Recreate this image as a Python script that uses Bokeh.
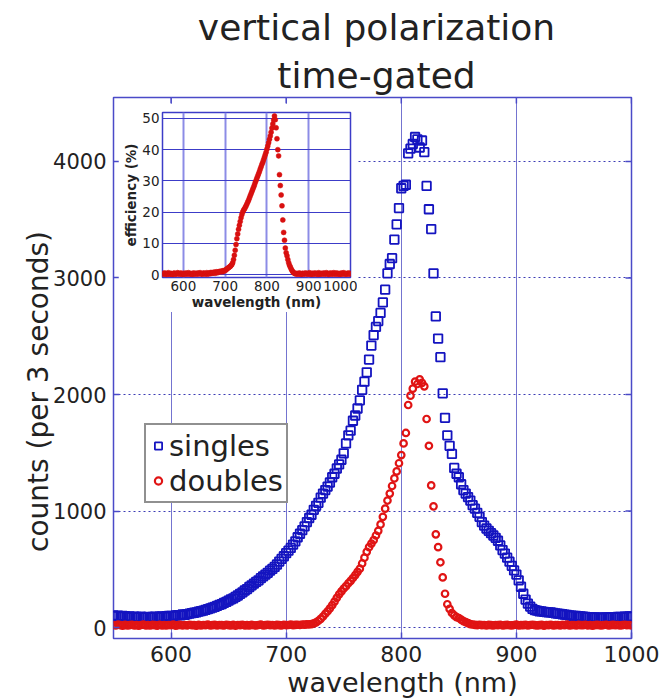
from math import pi
from bokeh.plotting import figure
from bokeh.models import (Range1d, FixedTicker, Label, Legend, LegendItem, GridBox)
from bokeh.embed import file_html
from bokeh.resources import INLINE

# ---------------- data ----------------
wavelength = [
    550, 552, 554, 556, 558, 560, 562, 564, 566, 568,
    570, 572, 574, 576, 578, 580, 582, 584, 586, 588,
    590, 592, 594, 596, 598, 600, 602, 604, 606, 608,
    610, 612, 614, 616, 618, 620, 622, 624, 626, 628,
    630, 632, 634, 636, 638, 640, 642, 644, 646, 648,
    650, 652, 654, 656, 658, 660, 662, 664, 666, 668,
    670, 672, 674, 676, 678, 680, 682, 684, 686, 688,
    690, 692, 694, 696, 698, 700, 702, 704, 706, 708,
    710, 712, 714, 716, 718, 720, 722, 724, 726, 728,
    730, 732, 734, 736, 738, 740, 742, 744, 746, 748,
    750, 752, 754, 756, 758, 760, 762, 764, 766, 768,
    770, 772, 774, 776, 778, 780, 782, 784, 786, 788,
    790, 792, 794, 796, 798, 800, 802, 804, 806, 808,
    810, 812, 814, 816, 818, 820, 822, 824, 826, 828,
    830, 832, 834, 836, 838, 840, 842, 844, 846, 848,
    850, 852, 854, 856, 858, 860, 862, 864, 866, 868,
    870, 872, 874, 876, 878, 880, 882, 884, 886, 888,
    890, 892, 894, 896, 898, 900, 902, 904, 906, 908,
    910, 912, 914, 916, 918, 920, 922, 924, 926, 928,
    930, 932, 934, 936, 938, 940, 942, 944, 946, 948,
    950, 952, 954, 956, 958, 960, 962, 964, 966, 968,
    970, 972, 974, 976, 978, 980, 982, 984, 986, 988,
    990, 992, 994, 996, 998, 1000,
]

singles = [
    105, 98, 102, 95, 100, 97, 92, 96, 90, 94,
    91, 88, 93, 90, 87, 92, 89, 91, 94, 90,
    93, 95, 92, 97, 99, 101, 98, 104, 107, 105,
    112, 110, 116, 119, 123, 127, 130, 136, 141, 146,
    152, 158, 164, 171, 178, 186, 194, 201, 212, 220,
    231, 242, 250, 263, 275, 289, 301, 318, 330, 348,
    362, 377, 392, 405, 424, 440, 455, 470, 488, 503,
    520, 541, 566, 589, 612, 638, 660, 683, 712, 740,
    775, 805, 836, 868, 905, 940, 968, 1010, 1045, 1070,
    1115, 1150, 1180, 1210, 1245, 1290, 1320, 1365, 1400, 1440,
    1495, 1580, 1650, 1690, 1775, 1820, 1880, 1950, 2040, 2110,
    2190, 2300, 2420, 2510, 2580, 2630, 2700, 2790, 2900, 3040,
    3120, 3170, 3330, 3460, 3600, 3770, 3790, 3800, 4070, 4110,
    4150, 4210, 4190, 4120, 4180, 4080, 3790, 3590, 3420, 3040,
    2670, 2480, 2320, 2010, 1800, 1650, 1560, 1490, 1370, 1320,
    1290, 1230, 1180, 1150, 1120, 1090, 1050, 1020, 985, 950,
    905, 875, 850, 830, 810, 790, 770, 745, 705, 665,
    635, 600, 565, 530, 490, 455, 405, 350, 290, 240,
    205, 180, 160, 150, 145, 140, 138, 135, 133, 131,
    130, 126, 122, 120, 117, 114, 111, 108, 105, 103,
    100, 99, 97, 95, 94, 92, 90, 89, 88, 87,
    86, 86, 85, 86, 88, 87, 89, 90, 88, 91,
    92, 90, 93, 94, 95, 96,
]

doubles = [
    22, 18, 25, 20, 17, 23, 19, 21, 24, 18,
    20, 16, 22, 25, 19, 21, 18, 23, 20, 17,
    24, 19, 21, 18, 22, 20, 25, 17, 21, 23,
    19, 22, 18, 24, 20, 21, 17, 23, 19, 22,
    20, 25, 18, 21, 23, 19, 22, 20, 18, 24,
    21, 19, 23, 17, 22, 20, 24, 18, 21, 19,
    23, 20, 18, 22, 25, 19, 21, 24, 20, 22,
    19, 23, 21, 18, 24, 20, 22, 25, 21, 23,
    24, 22, 26, 25, 27, 28, 30, 36, 45, 58,
    75, 95, 118, 140, 165, 192, 222, 255, 285, 310,
    335, 355, 380, 400, 425, 450, 478, 505, 550, 600,
    650, 690, 720, 750, 790, 830, 885, 950, 1020, 1090,
    1150, 1215, 1280, 1340, 1410, 1480, 1580, 1670, 1910, 1990,
    2050, 2110, 2090, 2130, 2100, 2070, 1790, 1560, 1220, 1040,
    800, 690, 560, 430, 290, 200, 160, 125, 105, 90,
    82, 68, 55, 46, 38, 30, 26, 23, 21, 24,
    20, 22, 19, 23, 21, 18, 22, 20, 24, 19,
    21, 23, 20, 18, 22, 25, 19, 21, 20, 23,
    18, 22, 24, 20, 19, 21, 23, 17, 22, 20,
    24, 19, 21, 22, 18, 23, 20, 25, 19, 21,
    22, 18, 23, 20, 21, 24, 19, 22, 17, 21,
    23, 20, 19, 22, 24, 18, 21, 23, 20, 22,
    19, 21, 24, 20, 22, 18,
]

efficiency = [
    0.3, 0.1, 0.5, 0.2, 0.4, 0.0, 0.3, 0.6, 0.2, 0.1,
    0.4, 0.2, 0.0, 0.3, 0.5, 0.1, 0.3, 0.2, 0.6, 0.4,
    0.1, 0.3, 0.5, 0.2, 0.0, 0.4, 0.3, 0.1, 0.5, 0.2,
    0.3, 0.6, 0.1, 0.4, 0.2, 0.3, 0.0, 0.5, 0.2, 0.4,
    0.3, 0.1, 0.5, 0.2, 0.4, 0.6, 0.2, 0.3, 0.1, 0.5,
    0.4, 0.2, 0.3, 0.6, 0.1, 0.4, 0.5, 0.3, 0.7, 0.4,
    0.6, 0.5, 0.8, 0.4, 0.7, 0.9, 0.6, 0.8, 1.0, 0.9,
    1.1, 0.9, 1.2, 1.0, 1.3, 1.4, 1.5, 1.8, 2.0, 2.2,
    2.4, 2.6, 2.9, 3.2, 3.8, 4.8, 6.2, 7.8, 9.6, 11.5,
    13.0, 14.5, 15.8, 17.0, 18.2, 19.2, 20.0, 20.6, 21.0, 21.5,
    22.0, 22.6, 23.2, 23.8, 24.5, 25.2, 25.9, 26.6, 27.3, 28.0,
    28.7, 29.5, 30.2, 30.9, 31.6, 32.3, 33.0, 33.8, 34.5, 35.3,
    36.0, 36.8, 37.6, 38.4, 39.2, 40.2, 41.2, 42.2, 43.3, 44.4,
    45.6, 46.9, 48.2, 49.5, 50.8, 49.6, 47.0, 43.5, 40.0, 38.0,
    32.0, 28.5, 25.5, 22.0, 17.5, 13.5, 11.0, 8.5, 7.0, 6.0,
    4.8, 3.8, 3.0, 2.4, 1.8, 1.3, 0.9, 0.6, 0.4, 0.3,
    0.2, 0.4, 0.1, 0.3, 0.5, 0.2, 0.0, 0.3, 0.4, 0.1,
    0.3, 0.5, 0.2, 0.4, 0.1, 0.3, 0.6, 0.2, 0.0, 0.4,
    0.3, 0.1, 0.5, 0.2, 0.4, 0.3, 0.0, 0.6, 0.2, 0.1,
    0.4, 0.2, 0.3, 0.5, 0.1, 0.3, 0.6, 0.2, 0.4, 0.0,
    0.3, 0.5, 0.2, 0.4, 0.1, 0.6, 0.3, 0.2, 0.5, 0.1,
    0.4, 0.2, 0.3, 0.0, 0.5, 0.2, 0.4, 0.6, 0.1, 0.3,
    0.2, 0.4, 0.1, 0.5, 0.3, 0.2,
]

x_ticks = [600, 700, 800, 900, 1000]
y_ticks = [0, 1000, 2000, 3000, 4000]
inset_y_ticks = [0, 10, 20, 30, 40, 50]

title_lines = ["vertical polarization", "time-gated"]
x_label = "wavelength (nm)"
y_label = "counts (per 3 seconds)"
inset_y_label = "efficiency (%)"
series_names = ["singles", "doubles"]

# ---------------- styling ----------------
FONT = "DejaVu Sans"
TXT = "#222222"
BLUE = "#1414c0"
RED = "#e01414"
FRAME = "#4a4ac8"
W, H = 666, 699

# ---------------- main plot ----------------
XMIN, XMAX, YMIN, YMAX = 550, 1000, -94, 4549
BL, BR, BT, BB = 113, 35, 97, 61
p = figure(width=W, height=H, output_backend="svg", toolbar_location=None,
           x_range=Range1d(XMIN, XMAX), y_range=Range1d(YMIN, YMAX),
           min_border_left=BL, min_border_right=BR,
           min_border_top=BT, min_border_bottom=BB)
p.background_fill_color = "white"
p.border_fill_color = "white"
p.outline_line_color = FRAME
p.outline_line_width = 1.5

for ax, ticks, fs in ((p.xaxis[0], x_ticks, "22px"), (p.yaxis[0], y_ticks, "21px")):
    ax.ticker = FixedTicker(ticks=ticks)
    ax.axis_line_color = None
    ax.major_tick_in = 6
    ax.major_tick_out = 0
    ax.major_tick_line_color = FRAME
    ax.major_tick_line_width = 1.5
    ax.minor_tick_line_color = None
    ax.major_label_text_font = FONT
    ax.major_label_text_font_size = fs
    ax.major_label_text_color = TXT
    ax.major_label_standoff = 7

# inward tick marks on the top and right edges of the frame
px_x = (XMAX - XMIN) / (W - BL - BR)   # data units per pixel
px_y = (YMAX - YMIN) / (H - BT - BB)
p.segment(x0=x_ticks, y0=[YMAX] * len(x_ticks), x1=x_ticks,
          y1=[YMAX - 6 * px_y] * len(x_ticks),
          line_color=FRAME, line_width=1.5)
p.segment(x0=[XMAX] * len(y_ticks), y0=y_ticks,
          x1=[XMAX - 6 * px_x] * len(y_ticks), y1=y_ticks,
          line_color=FRAME, line_width=1.5)

p.xgrid.ticker = FixedTicker(ticks=x_ticks)
p.xgrid.grid_line_color = "#7474d0"
p.xgrid.grid_line_width = 1
p.ygrid.ticker = FixedTicker(ticks=y_ticks)
p.ygrid.grid_line_color = "#3c3cb4"
p.ygrid.grid_line_dash = "2 3"
p.ygrid.grid_line_width = 1.2

r_s = p.scatter(wavelength, singles, marker="square", size=8.5,
                line_color=BLUE, fill_color=None, line_width=1.8)
r_d = p.scatter(wavelength, doubles, marker="circle", size=6.5,
                line_color=RED, fill_color=None, line_width=2.2)

legend = Legend(items=[LegendItem(label=series_names[0], renderers=[r_s]),
                       LegendItem(label=series_names[1], renderers=[r_d])],
                location=(31, 135), orientation="vertical",
                label_text_font=FONT, label_text_font_size="29px",
                label_text_color=TXT, border_line_color="#222222",
                border_line_width=2, background_fill_color="white",
                background_fill_alpha=1.0, padding=3, spacing=0, margin=0,
                glyph_width=18, glyph_height=35, label_standoff=2,
                label_height=35)
p.add_layout(legend)

# ---------------- inset ----------------
q = figure(width=239, height=209, output_backend="svg", toolbar_location=None,
           x_range=Range1d(550, 1000), y_range=Range1d(-0.94, 51.9),
           min_border_left=44, min_border_right=7,
           min_border_top=9, min_border_bottom=31)
q.background_fill_color = "white"
q.border_fill_color = "white"
q.outline_line_color = "#3c3cc8"
q.outline_line_width = 1.5

for ax, ticks in ((q.xaxis[0], x_ticks), (q.yaxis[0], inset_y_ticks)):
    ax.ticker = FixedTicker(ticks=ticks)
    ax.axis_line_color = None
    ax.major_tick_in = 0
    ax.major_tick_out = 0
    ax.minor_tick_line_color = None
    ax.major_label_text_font = FONT
    ax.major_label_text_font_size = "13.5px"
    ax.major_label_text_color = TXT
    ax.major_label_standoff = 3
    ax.axis_label_text_font = FONT
    ax.axis_label_text_font_size = "13.5px"
    ax.axis_label_text_font_style = "bold"
    ax.axis_label_text_color = TXT
    ax.axis_label_standoff = 0
q.xaxis[0].axis_label = x_label
q.yaxis[0].axis_label = inset_y_label

q.xgrid.ticker = FixedTicker(ticks=x_ticks)
q.xgrid.grid_line_color = "#8c8ce6"
q.xgrid.grid_line_width = 2
q.ygrid.ticker = FixedTicker(ticks=inset_y_ticks)
q.ygrid.grid_line_color = "#3c3cc8"
q.ygrid.grid_line_width = 1.2

q.scatter(wavelength, efficiency, marker="circle", size=5,
          line_color="#d81010", fill_color="#d81010", line_width=0.5)

# ---------------- transparent text layer (title and axis titles) ----------------
t = figure(width=W, height=H, output_backend="svg", toolbar_location=None,
           x_range=Range1d(0, W), y_range=Range1d(H, 0),
           min_border_left=0, min_border_right=0,
           min_border_top=0, min_border_bottom=0)
t.axis.visible = False
t.grid.visible = False
t.outline_line_color = None
t.background_fill_color = None
t.border_fill_color = None

t.add_layout(Label(x=376, y=27, text=title_lines[0], text_font=FONT,
                   text_font_size="36px", text_color=TXT,
                   text_align="center", text_baseline="middle"))
t.add_layout(Label(x=376, y=75, text=title_lines[1], text_font=FONT,
                   text_font_size="36px", text_color=TXT,
                   text_align="center", text_baseline="middle"))
t.add_layout(Label(x=402, y=682, text=x_label, text_font=FONT,
                   text_font_size="27px", text_color=TXT,
                   text_align="center", text_baseline="middle"))
t.add_layout(Label(x=38, y=391, text=y_label, text_font=FONT,
                   text_font_size="28px", text_color=TXT, angle=pi / 2,
                   text_align="center", text_baseline="middle"))

# zero-size outer tracks keep the text layer's edges on tracks of its own,
# so that its frame is not aligned to the main plot's frame
layout = GridBox(children=[(p, 1, 1, 3, 3), (q, 2, 2, 1, 1), (t, 0, 0, 5, 5)],
                 rows=["0px", "103px", "209px", "387px", "0px"],
                 cols=["0px", "118px", "239px", "309px", "0px"], spacing=0)

open("out.html", "w").write(file_html(layout, INLINE))
